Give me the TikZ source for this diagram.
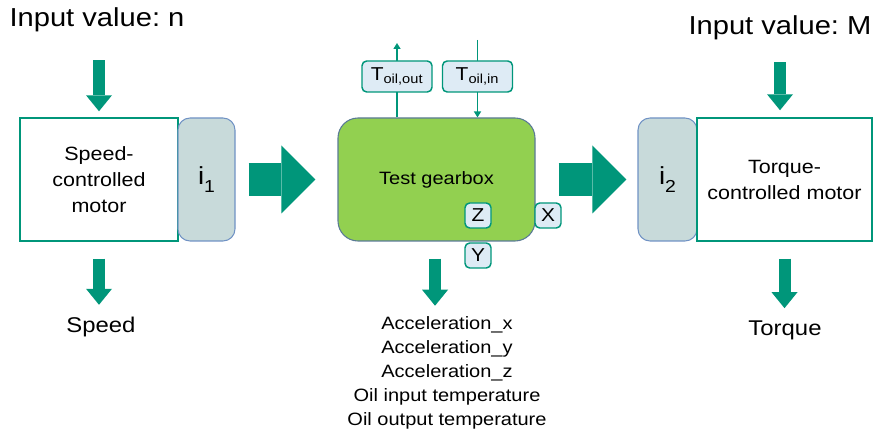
\documentclass[tikz,border=0pt]{standalone}
\usepackage{fontspec}
\setmainfont[FakeStretch=1.12]{Liberation Sans}
\usetikzlibrary{arrows.meta}
\frenchspacing

\pgfdeclarelayer{background}
\pgfsetlayers{background,main}

\definecolor{flowteal}{RGB}{0,150,122}
\definecolor{gearfill}{RGB}{146,208,80}
\definecolor{gearline}{RGB}{90,122,150}
\definecolor{ratiofill}{RGB}{200,218,218}
\definecolor{ratioline}{RGB}{112,146,196}
\definecolor{sensfill}{RGB}{222,235,245}

\newcommand{\ratiosub}[1]{\raisebox{-0.32em}{\fontsize{13}{13}\selectfont #1}}

\tikzset{
	bigtext/.style={inner sep=0pt, font=\fontsize{19.5}{23}\selectfont},
	outtext/.style={inner sep=0pt, font=\fontsize{16}{19}\selectfont},
	motor/.style={draw=flowteal, line width=1.1pt, fill=white, minimum height=92.25pt, align=center, font=\fontsize{14.4}{19.5}\selectfont},
	ratio/.style={draw=ratioline, fill=ratiofill, line width=0.8pt, rounded corners=9pt, minimum height=92.25pt, font=\fontsize{18.5}{20}\selectfont},
	sensor/.style={draw=flowteal, fill=sensfill, line width=1.1pt, rounded corners=3.5pt, inner sep=0pt, font=\fontsize{14}{16}\selectfont},
	fatdown/.style={flowteal, line width=9pt, -{Triangle[width=19.5pt,length=12pt,line width=0pt]}},
	fatright/.style={flowteal, line width=24.75pt, -{Triangle[width=51pt,length=25.5pt,line width=0pt]}},
	oilline/.style={flowteal, line width=1.1pt, -{Triangle[width=5.25pt,length=4.5pt]}}
}

\begin{document}
\begin{tikzpicture}[x=0.75pt,y=-0.75pt]

	\useasboundingbox (0,0) rectangle (873,434);

	% Inputs
	\node[bigtext] (inN) at (97,20) {Input value: n};
	\node[bigtext] (inM) at (780,28) {Input value: M};

	% Motors and ratios
	\node[motor, minimum width=118.5pt] (spd) at (99,179.5) {Speed-\\controlled\\motor};
	\node[ratio, minimum width=42.75pt] (ione) at (206.5,179.5) {i\ratiosub{1}};
	\node[ratio, minimum width=44.25pt] (itwo) at (667.5,179.5) {i\ratiosub{2}};
	\node[motor, minimum width=131.25pt] (trq) at (784.5,179.5) {Torque-\\controlled motor};

	% Gearbox
	\node[draw=gearline, fill=gearfill, line width=0.8pt, rounded corners=15pt, minimum width=147.75pt, minimum height=92.25pt, font=\fontsize{13.4}{16}\selectfont] (gb) at (436.5,179.5) {Test gearbox};

	% Sensors
	\node[sensor, minimum width=52.5pt, minimum height=23.25pt] (tout) at (397,76.5) {T\textsubscript{oil,out}};
	\node[sensor, minimum width=52.5pt, minimum height=23.25pt] (tin) at (477.5,76.5) {T\textsubscript{oil,in}};
	\node[sensor, minimum width=19.5pt, minimum height=18.75pt] (accz) at (478,215.5) {Z};
	\node[sensor, minimum width=19.5pt, minimum height=18.75pt] (accy) at (478,255.5) {Y};
	\node[sensor, minimum width=19.5pt, minimum height=18.75pt] (accx) at (548,215.5) {X};

	\coordinate (oilout) at (397,43);
	\coordinate (oilin) at (477.5,40);
	\begin{pgfonlayer}{background}
		\draw[oilline] (gb.north -| tout) -- (oilout);
		\draw[oilline] (oilin) -- (gb.north -| tin);
	\end{pgfonlayer}

	% Outputs
	\node[outtext] (speed) at (101,327) {Speed};
	\node[outtext] (torque) at (785,330) {Torque};
	\node[inner sep=0pt, align=center, font=\fontsize{13.4}{18}\selectfont] (meas) at (447,373) {Acceleration\_x\\Acceleration\_y\\Acceleration\_z\\Oil input temperature\\Oil output temperature};

	% Arrows
	\draw[fatdown, shorten <=20.8pt, shorten >=4.5pt] (inN.south -| spd.north) -- (spd.north);
	\draw[fatdown, shorten <=16.4pt, shorten >=5.25pt] (inM.south) -- (inM.south |- trq.north);
	\draw[fatdown, shorten <=12.75pt, shorten >=9pt] (spd.south) -- (spd.south |- speed.north);
	\draw[fatdown, shorten <=12.75pt, shorten >=9pt] (trq.south) -- (trq.south |- torque.north);
	\draw[fatdown, shorten <=12.75pt, shorten >=8pt] ([xshift=-1.1pt]gb.south) -- ([xshift=-1.1pt]gb.south |- meas.north);
	\draw[fatright, shorten <=9.75pt, shorten >=16.5pt] (ione.east) -- (gb.west);
	\draw[fatright, shorten <=17.25pt, shorten >=8.25pt] (gb.east) -- (itwo.west);

\end{tikzpicture}
\end{document}
